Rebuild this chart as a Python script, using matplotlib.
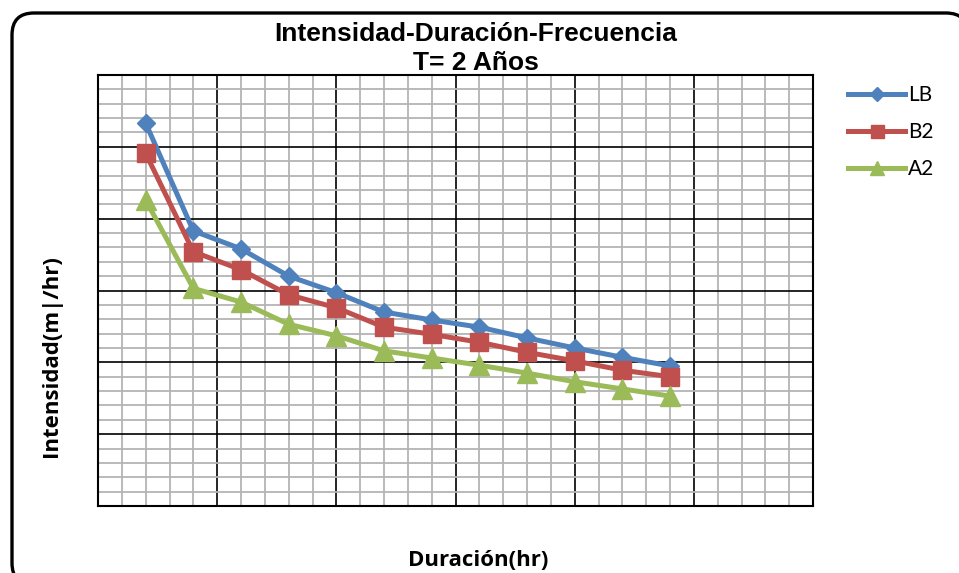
import matplotlib
matplotlib.use("Agg")
import matplotlib.pyplot as plt
from matplotlib.patches import FancyBboxPatch
from matplotlib.ticker import MultipleLocator

duracion = [2, 4, 6, 8, 10, 12, 14, 16, 18, 20, 22, 24]
lb = [53.3, 38.3, 35.8, 32.0, 29.7, 27.0, 25.9, 24.9, 23.4, 22.0, 20.7, 19.5]
b2 = [49.1, 35.4, 32.9, 29.4, 27.6, 24.9, 23.9, 22.8, 21.4, 20.2, 18.9, 18.0]
a2 = [42.6, 30.3, 28.4, 25.3, 23.7, 21.6, 20.6, 19.6, 18.5, 17.3, 16.3, 15.3]
series_names = ["LB", "B2", "A2"]

W, H = 959, 573
fig = plt.figure(figsize=(W / 100, H / 100), dpi=100)

# background axes in pixel coordinates for the rounded chart border
bg = fig.add_axes([0, 0, 1, 1], zorder=-1)
bg.set_xlim(0, W)
bg.set_ylim(H, 0)
bg.axis("off")
bg.add_patch(FancyBboxPatch((12, 13), 968 - 12, 585 - 13,
                            boxstyle="round,pad=0,rounding_size=22",
                            facecolor="white", edgecolor="black",
                            linewidth=2.4, clip_on=False))

ax = fig.add_axes([98 / W, (H - 506) / H, (813 - 98) / W, (506 - 75) / H])
ax.set_xlim(0, 30)
ax.set_ylim(0, 60)
ax.xaxis.set_major_locator(MultipleLocator(5))
ax.xaxis.set_minor_locator(MultipleLocator(1))
ax.yaxis.set_major_locator(MultipleLocator(10))
ax.yaxis.set_minor_locator(MultipleLocator(2))
ax.grid(which="minor", color="#b4b4b4", linewidth=1.3, zorder=1)
ax.grid(which="major", color="black", linewidth=1.2, zorder=1)
ax.set_axisbelow(True)
ax.tick_params(which="both", length=0, labelbottom=False, labelleft=False)
for s in ax.spines.values():
    s.set_color("black")
    s.set_linewidth(1.5)

colors = ["#4F81BD", "#C0504D", "#9BBB59"]
markers = ["D", "s", "^"]
msizes = [9.5, 13, 14]
for vals, name, c, m, ms in zip([lb, b2, a2], series_names, colors, markers, msizes):
    ax.plot(duracion, vals, color=c, marker=m, markersize=ms, linewidth=3.6,
            label=name, zorder=3, clip_on=False)

leg = ax.legend(loc="upper left", bbox_to_anchor=(848 / W, (H - 85) / H),
                bbox_transform=fig.transFigure, frameon=False,
                prop={"family": ["Lato", "DejaVu Sans"], "size": 15},
                handlelength=2.75, handletextpad=0.15, labelspacing=0.82,
                borderaxespad=0, borderpad=0, markerscale=0.72)

fig.text(476 / W, 1 - 34 / H, "Intensidad-Duración-Frecuencia", ha="center",
         va="center", fontsize=19, fontweight="bold", family="Liberation Sans")
fig.text(476 / W, 1 - 63 / H, "T= 2 Años", ha="center", va="center",
         fontsize=19, fontweight="bold", family="Liberation Sans")
fig.text(478 / W, 1 - 561 / H, "Duración(hr)", ha="center", va="center",
         fontsize=16, fontweight="bold", family=["Open Sans", "DejaVu Sans"])
fig.text(52 / W, 1 - 356 / H, "Intensidad(m|/hr)", ha="center", va="center",
         rotation=90, fontsize=16, fontweight="bold",
         family=["Open Sans", "DejaVu Sans"])

fig.savefig("out.png", dpi=100)
